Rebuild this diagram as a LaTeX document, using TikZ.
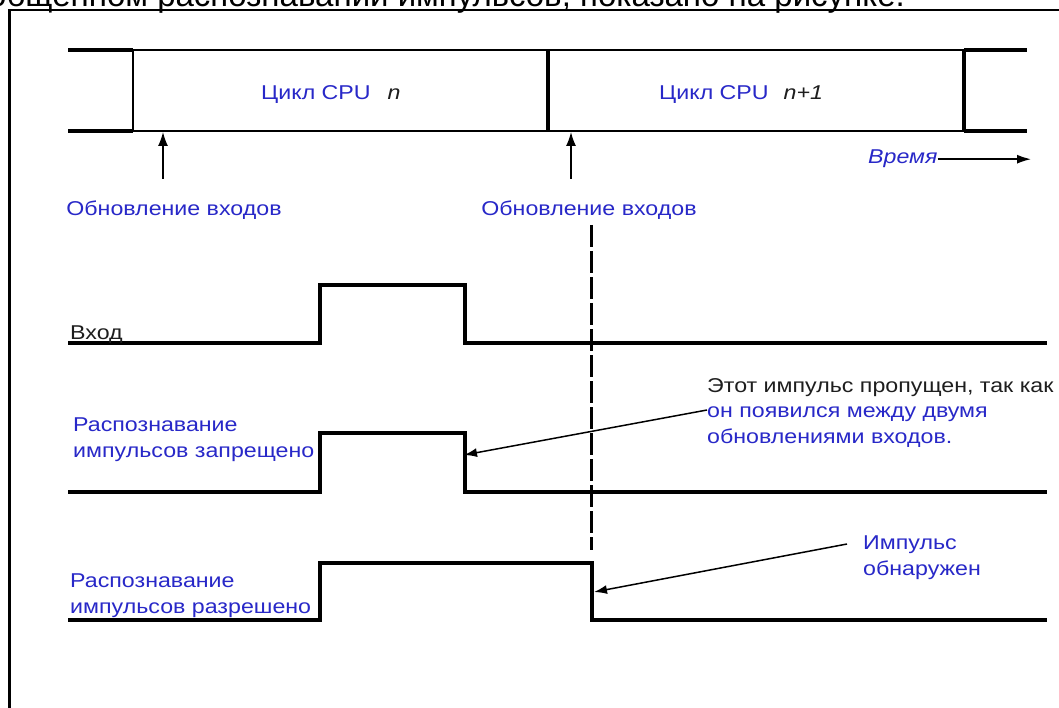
\documentclass[tikz,border=0pt]{standalone}
\usepackage{fontspec}
\setmainfont{Liberation Sans}[FakeStretch=1.16]
\newfontfamily\plainfont{Liberation Sans}
\usetikzlibrary{arrows.meta}
\definecolor{lblue}{RGB}{40,40,200}
\definecolor{tblack}{RGB}{30,30,30}
\begin{document}
\begin{tikzpicture}[x=1pt,y=-1pt,line join=miter,
  lbl/.style={inner sep=0pt,font=\fontsize{20}{25.5}\selectfont,text=lblue},
  blk/.style={inner sep=0pt,font=\fontsize{20}{25.5}\selectfont,text=tblack},
  sig/.style={line width=4pt,line join=miter},
  busthin/.style={line width=1.8pt},
  busthick/.style={line width=4pt},
  arr/.style={line width=1.5pt,-{Latex[length=13pt,width=9pt]}},
  uparr/.style={line width=1.5pt,-{Latex[length=14pt,width=10pt]}}]
\useasboundingbox (0,0) rectangle (1059,708);
\clip (0,0) rectangle (1059,708);
\fill[white] (0,0) rectangle (1059,708);

% cut-off caption line above the frame
\node[anchor=base east,inner sep=0pt,font=\plainfont\fontsize{33}{39}\selectfont] (cap) at (905,7) {общенном распознавании импульсов, показано на рисунке.};

% frame
\draw[line width=2pt] (8,10) -- (1062,10);
\draw[line width=3pt] (9,9) -- (9,712);

% CPU cycle bus
\draw[busthick] (68,50) -- (133,50) (68,131) -- (133,131);
\draw[busthin] (133,50) -- (964,50) (133,131) -- (964,131);
\draw[busthin] (133,50) -- (133,131);
\draw[busthick] (548,50) -- (548,131);
\draw[line width=3.5pt] (964,50) -- (964,131);
\draw[busthick] (964,50) -- (1027,50) (964,131) -- (1027,131);

\node[lbl,anchor=base west] (c1) at (261,100) {Цикл CPU\hspace{17pt}\textcolor{tblack}{\itshape n}};
\node[lbl,anchor=base west] (c2) at (659,100) {Цикл CPU\hspace{15pt}\textcolor{tblack}{\itshape n+1}};

% time axis
\node[lbl,anchor=base west,font=\fontsize{20}{25.5}\selectfont\itshape] (time) at (868,164) {Время};
\coordinate (timeend) at (1031,158);
\draw[line width=1.5pt,-{Latex[length=14pt,width=9pt]}] (time.east) -- (time.east -| timeend);

% input updates
\node[lbl,anchor=base] (u1) at (174,216) {Обновление входов};
\node[lbl,anchor=base] (u2) at (589,216) {Обновление входов};
\coordinate (a1s) at (163,179);
\coordinate (a1e) at (163,132);
\coordinate (a2s) at (571,179);
\coordinate (a2e) at (571,132);
\draw[uparr] (a1s) -- (a1e);
\draw[uparr] (a2s) -- (a2e);

% dashed marker
\coordinate (d1) at (591,225);
\coordinate (d2) at (591,550);
\draw[line width=3pt,dash pattern=on 22pt off 4pt] (d1) -- (d2);

% signals
\draw[sig] (68,343) -- (320,343) -- (320,285) -- (465,285) -- (465,343) -- (1047,343);
\draw[sig] (68,492) -- (320,492) -- (320,433) -- (465,433) -- (465,492) -- (1047,492);
\draw[sig] (68,620) -- (320,620) -- (320,563) -- (592,563) -- (592,620) -- (1047,620);

% labels (base anchor = baseline of last line)
\node[blk,anchor=base west] (in) at (70,339) {Вход};
\node[lbl,anchor=base west,align=left] (dis) at (73,457) {Распознавание\\импульсов запрещено};
\node[lbl,anchor=base west,align=left] (en) at (70,613) {Распознавание\\импульсов разрешено};
\node[blk,anchor=base west,align=left] (miss) at (707,443) {Этот импульс пропущен, так как\\\textcolor{lblue}{он появился между двумя}\\\textcolor{lblue}{обновлениями входов.}};
\node[lbl,anchor=base west,align=left] (det) at (863,575) {Импульс\\обнаружен};

% annotation arrows
\coordinate (m1) at (707,410);
\coordinate (m2) at (464,455);
\draw[arr] (m1) -- (m2);
\coordinate (dt1) at (847,544);
\coordinate (dt2) at (594,592);
\draw[arr] (dt1) -- (dt2);
\end{tikzpicture}
\end{document}
